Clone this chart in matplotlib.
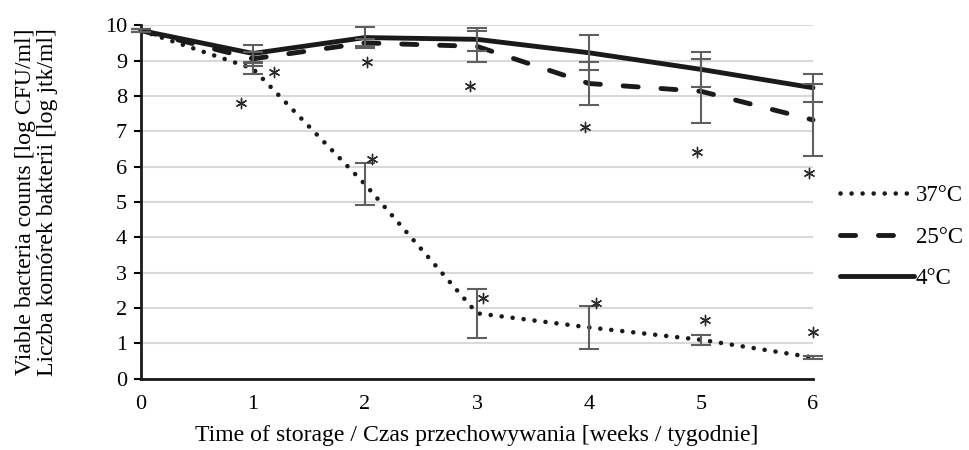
import matplotlib

matplotlib.use("Agg")

import matplotlib.pyplot as plt

weeks = [0, 1, 2, 3, 4, 5, 6]

t37 = [9.85, 8.77, 5.5, 1.85, 1.45, 1.1, 0.6]
t37_err = [0.05, 0.15, 0.6, 0.69, 0.6, 0.14, 0.03]

t25 = [9.85, 9.05, 9.5, 9.4, 8.35, 8.13, 7.32]
t25_err = [0.05, 0.2, 0.1, 0.45, 0.6, 0.9, 1.02]

t4 = [9.85, 9.2, 9.65, 9.6, 9.22, 8.75, 8.23]
t4_err = [0.05, 0.23, 0.3, 0.33, 0.5, 0.5, 0.4]

# significance asterisks (x, y) as they sit in the figure
star_x = [0.89, 1.19, 2.02, 2.06, 2.94, 3.05, 3.96, 4.06, 4.96, 5.04, 5.96, 6.0]
star_y = [7.79, 8.67, 8.95, 6.21, 8.28, 2.28, 7.12, 2.14, 6.41, 1.66, 5.82, 1.32]

plt.rcParams["font.family"] = ["Liberation Serif", "DejaVu Serif"]

fig = plt.figure(figsize=(9.69, 4.5), dpi=100)
ax = fig.add_axes([0.1455, 0.1585, 0.839 - 0.1455, 0.944 - 0.1585])

ax.plot(weeks, t37, color="#1a1a1a", lw=3.3, linestyle=(0, (0.01, 2.4)),
        dash_capstyle="round", label="37°C", zorder=3, clip_on=False)
ax.plot(weeks, t25, color="#1a1a1a", lw=3.5, linestyle=(0, (3.1, 4.7)),
        dash_capstyle="round", label="25°C", zorder=3, clip_on=False)
ax.plot(weeks, t4, color="#1a1a1a", lw=3.5, linestyle="-",
        solid_capstyle="round", label="4°C", zorder=3, clip_on=False)

for vals, errs in [(t37, t37_err), (t25, t25_err), (t4, t4_err)]:
    ax.errorbar(weeks, vals, yerr=errs, fmt="none", ecolor="#5f5f5f",
                elinewidth=1.5, capsize=7.5, capthick=1.5, zorder=4,
                clip_on=False)

ax.scatter(star_x, star_y, marker=(6, 2, 0), s=55, color="#2a2a2a",
           linewidths=1.0, zorder=5, clip_on=False)

ax.set_xlim(0, 6)
ax.set_ylim(0, 10)
ax.set_xticks(weeks)
ax.set_yticks(range(0, 11))
ax.tick_params(axis="x", length=0, pad=12, labelsize=16)
ax.tick_params(axis="y", length=5, width=1.5, pad=5, labelsize=16)
ax.grid(axis="y", color="#d9d9d9", lw=1.5)
ax.set_axisbelow(True)
for side in ["top", "right"]:
    ax.spines[side].set_visible(False)
for side in ["left", "bottom"]:
    ax.spines[side].set_linewidth(2)
    ax.spines[side].set_color("#1a1a1a")

ax.set_xlabel("Time of storage / Czas przechowywania [weeks / tygodnie]",
              fontsize=17.1, labelpad=8)
fig.text(0.038, 0.551,
         "Viable bacteria counts [log CFU/ml]\nLiczba komórek bakterii [log jtk/ml]",
         rotation=90, ha="center", va="center", fontsize=17.1, linespacing=1.05)

ax.legend(loc="center left", bbox_to_anchor=(1.01, 0.40), frameon=False,
          fontsize=16.5, handlelength=3.2, handletextpad=0.1, labelspacing=0.9)

fig.savefig("out.png", dpi=100)
